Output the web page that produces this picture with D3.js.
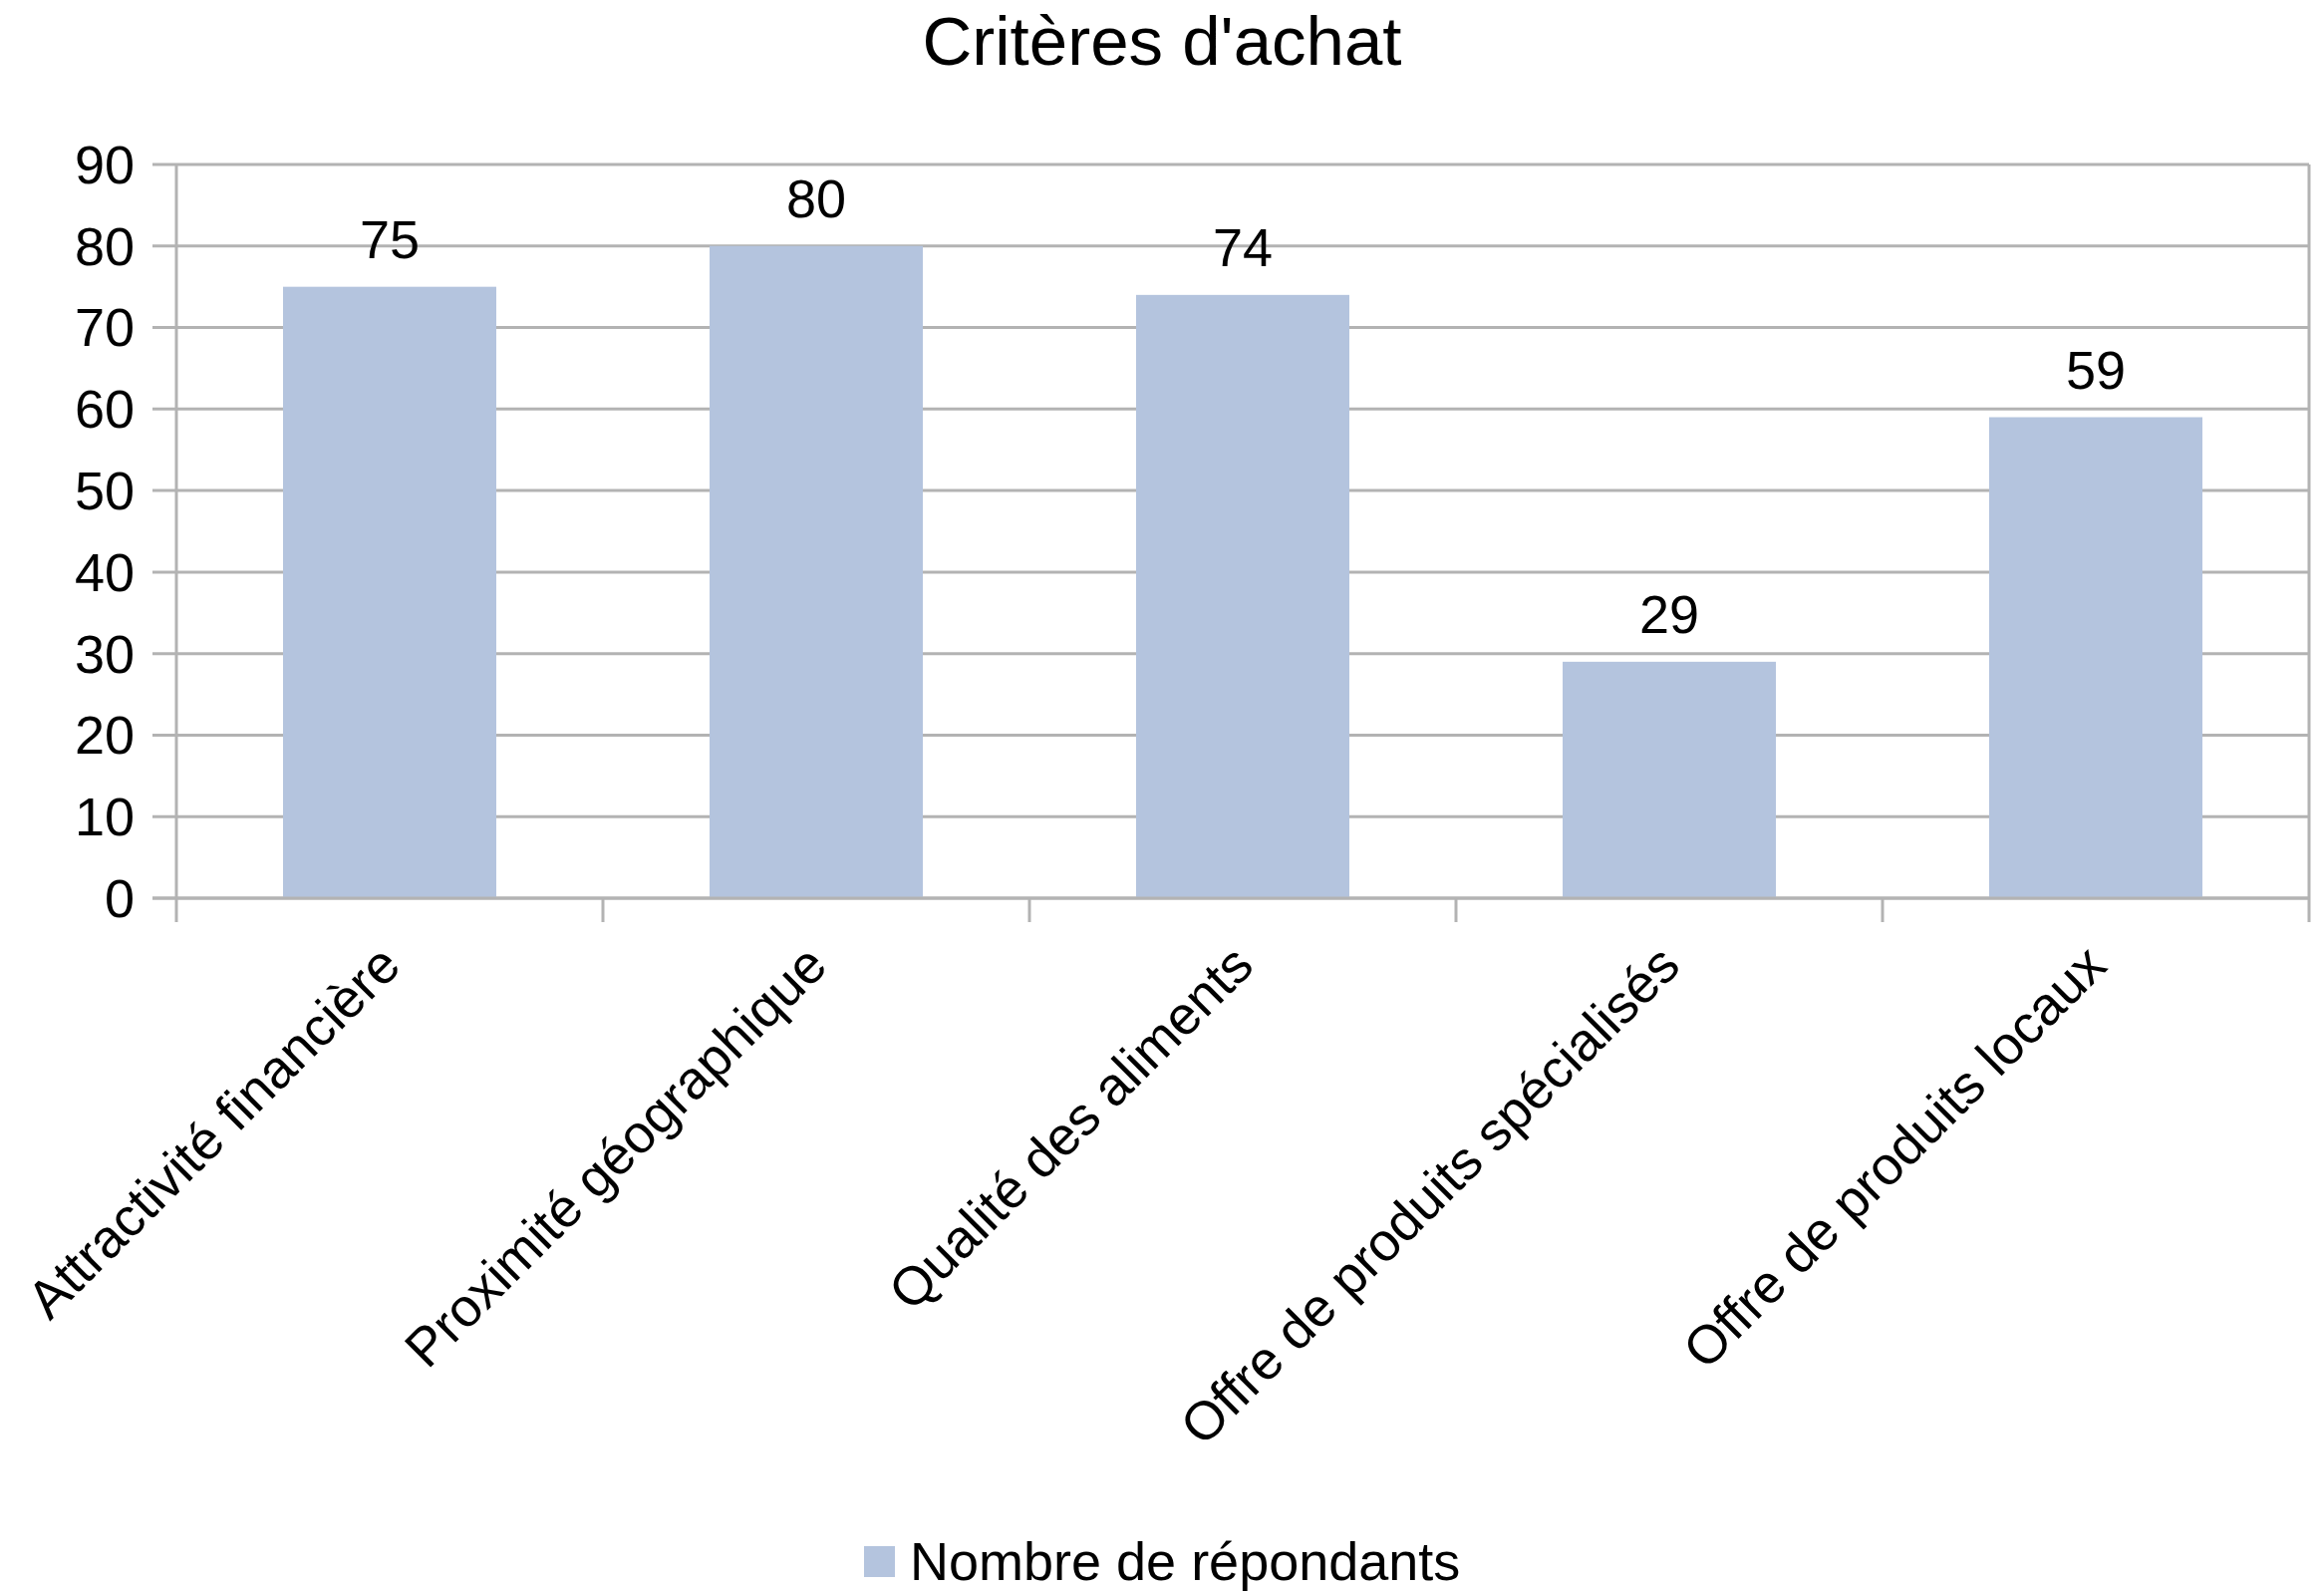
<!DOCTYPE html>
<html>
<head>
<meta charset="utf-8">
<script src="https://cdn.jsdelivr.net/npm/d3@7"></script>
<style>
  body { margin: 0; background: #fff; }
  text { font-family: "Liberation Sans", Arial, sans-serif; fill: #000; }
</style>
</head>
<body>
<div id="chart"></div>
<script>
const width = 2332;
const height = 1596;

// data
const categories = [
    "Attractivité financière",
    "Proximité géographique",
    "Qualité des aliments",
    "Offre de produits spécialisés",
    "Offre de produits locaux"
];
const values = [75, 80, 74, 29, 59];
const yTicks = [0, 10, 20, 30, 40, 50, 60, 70, 80, 90];
const seriesName = "Nombre de répondants";
const title = "Critères d'achat";

const barColor = "#b4c4de";
const gridColor = "#b3b3b3";

const plot = { left: 177, right: 2317, top: 165, bottom: 901 };

const svg = d3.select("#chart")
    .append("svg")
    .attr("width", width)
    .attr("height", height);

const x = d3.scaleBand()
    .domain(categories)
    .range([plot.left, plot.right])
    .paddingInner(0.5)
    .paddingOuter(0.25);

const y = d3.scaleLinear()
    .domain([0, 90])
    .range([plot.bottom, plot.top]);

// title
svg.append("text")
    .attr("x", width / 2)
    .attr("y", 65)
    .attr("text-anchor", "middle")
    .style("font-size", "69px")
    .text(title);

// gridlines + y tick marks
svg.append("g")
    .selectAll("line")
    .data(yTicks)
    .join("line")
    .attr("x1", plot.left - 24)
    .attr("x2", plot.right)
    .attr("y1", d => y(d))
    .attr("y2", d => y(d))
    .attr("stroke", gridColor)
    .attr("stroke-width", 3);

// y tick labels
svg.append("g")
    .selectAll("text")
    .data(yTicks)
    .join("text")
    .attr("x", plot.left - 42)
    .attr("y", d => y(d))
    .attr("dy", "0.35em")
    .attr("text-anchor", "end")
    .style("font-size", "54px")
    .text(d => d);

// axis lines
const boundaries = categories.map(c => x(c) - x.step() * x.paddingInner() / 2);
boundaries.push(plot.right);
boundaries[0] = plot.left;

svg.append("g")
    .selectAll("line")
    .data(boundaries)
    .join("line")
    .attr("x1", d => d)
    .attr("x2", d => d)
    .attr("y1", (d, i) => (i === 0 || i === boundaries.length - 1) ? plot.top : plot.bottom)
    .attr("y2", plot.bottom + 24)
    .attr("stroke", gridColor)
    .attr("stroke-width", 3);

// bars
svg.append("g")
    .selectAll("rect")
    .data(values)
    .join("rect")
    .attr("x", (d, i) => x(categories[i]))
    .attr("width", x.bandwidth())
    .attr("y", d => y(d))
    .attr("height", d => y(0) - y(d))
    .attr("fill", barColor);

// redraw baseline over bars
svg.append("line")
    .attr("x1", plot.left - 24)
    .attr("x2", plot.right)
    .attr("y1", y(0))
    .attr("y2", y(0))
    .attr("stroke", gridColor)
    .attr("stroke-width", 3);

// value labels
svg.append("g")
    .selectAll("text")
    .data(values)
    .join("text")
    .attr("x", (d, i) => x(categories[i]) + x.bandwidth() / 2)
    .attr("y", d => y(d) - 29)
    .attr("text-anchor", "middle")
    .style("font-size", "54px")
    .text(d => d);

// x labels, rotated
svg.append("g")
    .selectAll("text")
    .data(categories)
    .join("text")
    .attr("transform", d => `translate(${x(d) + x.bandwidth() / 2},958) rotate(-45)`)
    .attr("dy", "0.35em")
    .attr("text-anchor", "end")
    .style("font-size", "54px")
    .text(d => d);

// legend
const legend = svg.append("g");
legend.append("rect")
    .attr("x", 867)
    .attr("y", 1551)
    .attr("width", 31)
    .attr("height", 31)
    .attr("fill", barColor);
legend.append("text")
    .attr("x", 913)
    .attr("y", 1585)
    .style("font-size", "54px")
    .text(seriesName);
</script>
</body>
</html>
